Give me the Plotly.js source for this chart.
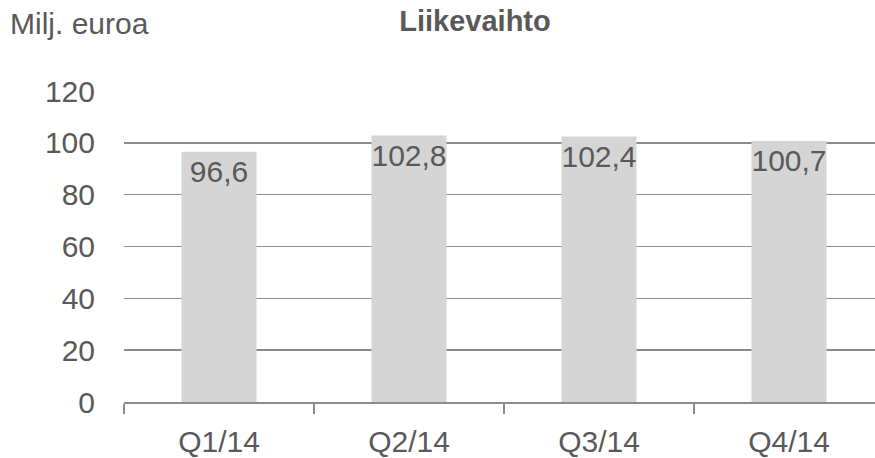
<!DOCTYPE html>
<html>
<head>
<meta charset="utf-8">
<script src="https://cdn.plot.ly/plotly-3.0.1.min.js"></script>
<style>html,body{margin:0;padding:0;background:#fff;}</style>
</head>
<body>
<div id="chart" style="width:875px;height:458px;"></div>
<script>
const categories = ["Q1/14", "Q2/14", "Q3/14", "Q4/14"];
const values = [96.6, 102.8, 102.4, 100.7];
const labels = ["96,6", "102,8", "102,4", "100,7"];
const yTicks = [0, 20, 40, 60, 80, 100, 120];

const FONT = "Liberation Sans, Arial, sans-serif";
const TXT = "#595959";

const trace = {
  type: "bar",
  x: categories,
  y: values,
  text: labels,
  textposition: "inside",
  insidetextanchor: "end",
  textangle: 0,
  constraintext: "none",
  textfont: {family: FONT, size: 30, color: TXT},
  marker: {color: "#d6d5d6", line: {width: 0}},
  width: 0.395,
  hoverinfo: "none"
};

const layout = {
  width: 875,
  height: 458,
  margin: {l: 124, r: 0, t: 91, b: 56, pad: 0},
  paper_bgcolor: "#ffffff",
  plot_bgcolor: "#ffffff",
  showlegend: false,
  font: {family: FONT, color: TXT},
  title: {
    text: "<b>Liikevaihto</b>",
    font: {family: FONT, size: 29, color: TXT},
    xref: "container", x: 475/875, xanchor: "center",
    yref: "container", y: 1 - 21/458, yanchor: "middle"
  },
  xaxis: {
    type: "category",
    range: [-0.5, -0.5 + 751/190],
    tickson: "boundaries",
    ticks: "outside",
    ticklen: 10,
    tickwidth: 1.5,
    tickcolor: "#8c8c8c",
    showgrid: false,
    showline: true,
    linecolor: "#8c8c8c",
    linewidth: 1.5,
    ticklabelstandoff: 12,
    tickfont: {family: FONT, size: 30, color: TXT},
    zeroline: false,
    fixedrange: true
  },
  yaxis: {
    range: [0, 120],
    tickvals: yTicks,
    ticktext: yTicks.map(String),
    showgrid: true,
    gridcolor: "#8c8c8c",
    gridwidth: 1.5,
    zeroline: false,
    showline: false,
    ticks: "",
    ticklabelstandoff: 28,
    tickfont: {family: FONT, size: 30, color: TXT},
    fixedrange: true
  },
  annotations: [{
    text: "Milj. euroa",
    xref: "paper", yref: "paper",
    x: (8 - 124) / 751, xanchor: "left",
    y: (402 - 24) / 311, yanchor: "middle",
    showarrow: false,
    font: {family: FONT, size: 30, color: TXT}
  }]
};

Plotly.newPlot("chart", [trace], layout, {displayModeBar: false, staticPlot: true});
</script>
</body>
</html>
